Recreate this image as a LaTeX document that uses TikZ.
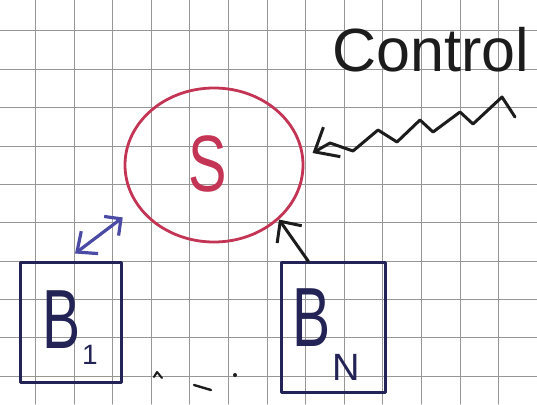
\documentclass[tikz,border=0pt]{standalone}
\usepackage{fontspec}
\usepackage{graphicx}
\setmainfont{Liberation Sans}
\usetikzlibrary{arrows.meta,calc,shapes.geometric}
\definecolor{redink}{RGB}{196,52,84}
\definecolor{navyink}{RGB}{35,35,85}
\definecolor{blueink}{RGB}{75,75,165}
\definecolor{blackink}{RGB}{28,28,28}
\definecolor{gridc}{RGB}{150,150,150}
\begin{document}
\begin{tikzpicture}[x=1pt,y=-1pt,line cap=round,line join=round,
  gridline/.style={draw=gridc,line width=1pt},
  ink/.style={line width=3pt},
  boxnode/.style={draw=navyink,line width=3pt,rectangle,inner sep=0pt},
  lbl/.style={inner sep=0pt,text=navyink}]
\useasboundingbox (0,0) rectangle (537,404);
\fill[white] (0,0) rectangle (537,404);
\foreach \i in {0,...,13} \draw[gridline] ({35.4+38.6*\i},0) -- ({35.4+38.6*\i},404);
\foreach \j in {0,...,9} \draw[gridline] (0,{31+38.35*\j}) -- (537,{31+38.35*\j});

% system S
\node[ellipse,draw=redink,line width=2.8pt,minimum width=178pt,minimum height=154pt,inner sep=0pt] (S) at (214,165) {};
\node[inner sep=0pt,text=redink] (slbl) at (208,164) {\fontsize{80}{80}\selectfont\scalebox{0.72}[1]{S}};

% boxes
\node[boxnode,minimum width=101pt,minimum height=120pt] (b1) at (70.5,322) {};
\node[lbl] (b1B) at (62,320) {\fontsize{84}{84}\selectfont\scalebox{0.68}[1]{B}};
\node[lbl] (b1s) at (90,355) {\fontsize{28}{28}\selectfont 1};

\node[boxnode,minimum width=104pt,minimum height=130pt] (bn) at (333,327) {};
\node[lbl] (bnB) at (312,318) {\fontsize{84}{84}\selectfont\scalebox{0.68}[1]{B}};
\node[lbl] (bnN) at (346,367) {\fontsize{38}{38}\selectfont N};

% control label
\node[inner sep=0pt,text=blackink] (ctrl) at (431,50) {\fontsize{61}{61}\selectfont Control};

% wavy control arrow
\coordinate (wend) at (515,117);
\draw[ink,blackink,-{Straight Barb[length=20pt,width=34pt]}] (wend) -- (502,97) -- (473,124) -- (460,112) -- (433,132) -- (420,120) -- (397,142) -- (378,130) -- (353,151) -- (330,143) -- ($(S.7)+(9,-1)$);

% double arrow B1 <-> S
\draw[line width=3.2pt,blueink,{Straight Barb[length=16pt,width=28pt]}-{Straight Barb[length=12pt,width=24pt]}] ($(b1.north)+(4.5,-7)$) -- ($(S.210)+(-16,9)$);

% arrow BN -> S
\draw[ink,blackink,-{Straight Barb[length=16pt,width=30pt]}] ($(bn.north west)+(29,1)$) -- (S.320);

% dots between the boxes
\draw[blackink,line width=2pt] (154,377) -- (157,372) -- (162,378);
\draw[blackink,line width=2.4pt] (194,385) -- (211,390);
\fill[blackink] (235,375) circle (2);
\end{tikzpicture}
\end{document}
